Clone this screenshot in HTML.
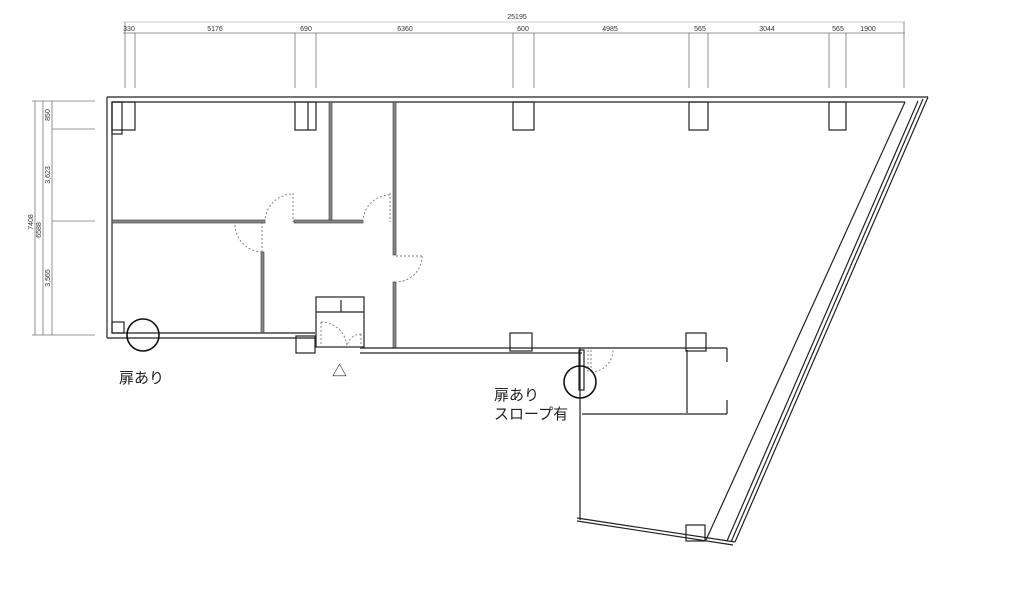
<!DOCTYPE html>
<html><head><meta charset="utf-8"><style>
html,body{margin:0;padding:0;background:#fff;}
svg{display:block;}
text{font-family:"Liberation Sans",sans-serif;fill:#333;}
.j{font-family:"Liberation Sans","Noto Sans CJK JP",sans-serif;fill:#222;}
</style></head><body>
<svg width="1024" height="603" viewBox="0 0 1024 603" xmlns="http://www.w3.org/2000/svg">
<g stroke="#777" stroke-width="0.8" fill="none">
<line x1="123" y1="33" x2="905" y2="33"/>
<line x1="123" y1="22" x2="905" y2="22" stroke="#bbb"/>
<line x1="125" y1="22" x2="125" y2="88"/><line x1="135" y1="33" x2="135" y2="88"/>
<line x1="295" y1="33" x2="295" y2="88"/><line x1="316" y1="33" x2="316" y2="88"/>
<line x1="513" y1="33" x2="513" y2="88"/><line x1="534" y1="33" x2="534" y2="88"/>
<line x1="689" y1="33" x2="689" y2="88"/><line x1="708" y1="33" x2="708" y2="88"/>
<line x1="829" y1="33" x2="829" y2="88"/><line x1="846" y1="33" x2="846" y2="88"/>
<line x1="904" y1="22" x2="904" y2="88"/>
<line x1="35" y1="101" x2="35" y2="335"/><line x1="43" y1="101" x2="43" y2="335"/><line x1="52" y1="101" x2="52" y2="335"/>
<line x1="32" y1="101" x2="95" y2="101"/><line x1="52" y1="129" x2="95" y2="129"/>
<line x1="52" y1="221" x2="95" y2="221"/><line x1="32" y1="335" x2="95" y2="335"/>
</g>
<g font-size="7">
<text x="517" y="19" text-anchor="middle">25195</text>
<text x="129" y="31" text-anchor="middle">330</text><text x="215" y="31" text-anchor="middle">5176</text>
<text x="306" y="31" text-anchor="middle">690</text><text x="405" y="31" text-anchor="middle">6360</text>
<text x="523" y="31" text-anchor="middle">600</text><text x="610" y="31" text-anchor="middle">4985</text>
<text x="700" y="31" text-anchor="middle">565</text><text x="767" y="31" text-anchor="middle">3044</text>
<text x="838" y="31" text-anchor="middle">565</text><text x="868" y="31" text-anchor="middle">1900</text>
<text transform="translate(33,222) rotate(-90)" text-anchor="middle">7408</text>
<text transform="translate(41,230) rotate(-90)" text-anchor="middle">6588</text>
<text transform="translate(50,115) rotate(-90)" text-anchor="middle">850</text>
<text transform="translate(50,175) rotate(-90)" text-anchor="middle">3,623</text>
<text transform="translate(50,278) rotate(-90)" text-anchor="middle">3,565</text>
</g>
<g stroke="#222" stroke-width="1.2" fill="none">
<line x1="107" y1="97" x2="928" y2="97"/><line x1="112" y1="102" x2="905" y2="102"/>
<line x1="107" y1="97" x2="107" y2="338"/><line x1="112" y1="102" x2="112" y2="333"/>
<rect x="112" y="102" width="10" height="32"/><rect x="112" y="102" width="23" height="28"/>
<rect x="112" y="322" width="12" height="11"/>
<rect x="295" y="102" width="21" height="28"/><line x1="308" y1="102" x2="308" y2="130"/>
<rect x="513" y="102" width="21" height="28"/>
<rect x="689" y="102" width="19" height="28"/>
<rect x="829" y="102" width="17" height="28"/>
<line x1="107" y1="338" x2="315" y2="338"/><line x1="112" y1="333" x2="315" y2="333"/>
<rect x="296" y="336" width="19" height="17"/>
</g>
<g fill="#888" stroke="#333" stroke-width="0.6">
<rect x="112" y="220" width="153" height="3"/>
<rect x="294" y="220" width="69" height="3"/>
<rect x="329" y="102" width="3" height="118"/>
<rect x="261" y="252" width="3" height="81"/>
<rect x="393" y="102" width="3" height="153"/>
<rect x="393" y="282" width="3" height="66"/>
</g>
<g stroke="#222" stroke-width="1.2" fill="none">
<rect x="316" y="297" width="48" height="50"/><line x1="316" y1="312" x2="364" y2="312"/>
<line x1="341" y1="300" x2="341" y2="312"/>
<line x1="360" y1="348" x2="582" y2="348"/><line x1="360" y1="353" x2="582" y2="353"/>
<rect x="510" y="333" width="22" height="18"/>
<line x1="580" y1="348" x2="580" y2="520"/><line x1="582" y1="348" x2="727" y2="348"/>
<rect x="579" y="350" width="5" height="40"/>
<rect x="686" y="333" width="20" height="18"/>
<line x1="687" y1="350" x2="687" y2="413"/>
<line x1="582" y1="414" x2="727" y2="414"/>
<line x1="727" y1="348" x2="727" y2="362"/><line x1="727" y1="400" x2="727" y2="414"/>
<line x1="577" y1="518" x2="735" y2="542"/><line x1="577" y1="521" x2="733" y2="545"/>
<rect x="686" y="525" width="19" height="16"/>
<line x1="928" y1="97" x2="735" y2="542"/><line x1="923" y1="99" x2="731" y2="542"/>
<line x1="918" y1="101" x2="727" y2="541"/><line x1="905" y1="102" x2="706" y2="540"/>
</g>
<g stroke="#777" stroke-width="0.9" fill="none" stroke-dasharray="2,2">
<line x1="293" y1="193" x2="293" y2="222"/><path d="M265 222 A28 28 0 0 1 293 194"/>
<line x1="390" y1="193" x2="390" y2="222"/><path d="M363 222 A27 27 0 0 1 390 195"/>
<line x1="396" y1="256" x2="422" y2="256"/><path d="M422 256 A26 26 0 0 1 396 282"/>
<line x1="262" y1="222" x2="262" y2="252"/><path d="M235 225 A28 28 0 0 0 262 252"/>
<line x1="321" y1="322" x2="321" y2="348"/><path d="M321 322 A26 26 0 0 1 347 348"/>
<path d="M347 348 A14 14 0 0 1 361 334"/><line x1="361" y1="334" x2="361" y2="348"/>
<line x1="588" y1="350" x2="588" y2="372"/><line x1="591" y1="350" x2="591" y2="372"/>
<path d="M591 372 A22 22 0 0 0 613 350"/>
</g>
<g stroke="#111" stroke-width="1.6" fill="none">
<circle cx="143" cy="335" r="16"/>
<circle cx="580" cy="382" r="16"/>
</g>
<text class="j" x="119" y="383" font-size="15">扉あり</text>
<text class="j" x="494" y="400" font-size="15">扉あり</text>
<text class="j" x="494" y="419" font-size="15">スロープ有</text>
<text class="j" x="332" y="376" font-size="15">△</text>
</svg>
</body></html>
